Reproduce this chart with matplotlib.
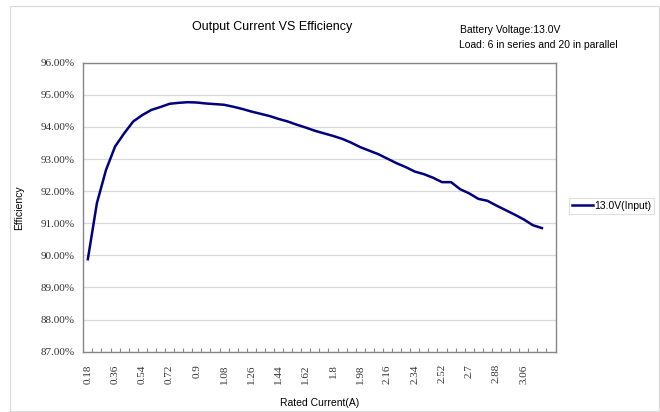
"""Output current vs efficiency curve (13.0V battery input), Excel-style line chart."""

import matplotlib

matplotlib.use("Agg")
import matplotlib.pyplot as plt
from matplotlib.patches import Rectangle

# rated current categories (A), one every 0.06 A
current = [round(0.18 + 0.06 * i, 2) for i in range(51)]
# efficiency (%)
efficiency = [
    89.88, 91.63, 92.66, 93.39, 93.80, 94.17, 94.37, 94.53, 94.62, 94.72,
    94.75, 94.77, 94.76, 94.73, 94.71, 94.69, 94.63, 94.56, 94.48, 94.41,
    94.34, 94.25, 94.17, 94.07, 93.98, 93.88, 93.80, 93.72, 93.63, 93.51,
    93.37, 93.26, 93.15, 93.01, 92.87, 92.75, 92.61, 92.53, 92.42, 92.28,
    92.28, 92.06, 91.93, 91.76, 91.70, 91.55, 91.41, 91.27, 91.12, 90.94,
    90.85,
]
n_slots = 52  # Excel category axis has one spare slot at the end
y_ticks = [87, 88, 89, 90, 91, 92, 93, 94, 95, 96]
series_name = "13.0V(Input)"

SANS = ["Liberation Sans", "DejaVu Sans"]
SERIF = ["Liberation Serif", "DejaVu Serif"]
LINE = "#000080"
GRID = "#d9d9d9"
FRAME = "#868686"

fig = plt.figure(figsize=(6.6, 4.12), dpi=100)
fig.patches.append(Rectangle((10 / 660, 1 / 412), 649 / 660, 405 / 412,
                             transform=fig.transFigure, fill=False,
                             edgecolor="#d9d9d9", linewidth=0.8))
ax = fig.add_axes([83.3 / 660, 1 - 351.7 / 412, 472.2 / 660, 289 / 412])

x = list(range(len(current)))
line, = ax.plot(x, efficiency, color=LINE, linewidth=1.8, label=series_name)

ax.set_xlim(-0.5, n_slots - 0.5)
ax.set_ylim(y_ticks[0], y_ticks[-1])
ax.set_yticks(y_ticks)
ax.set_yticklabels([f"{v:.2f}%" for v in y_ticks], fontfamily=SERIF,
                   fontsize=8, color="#333333")
ax.grid(axis="y", color=GRID, linewidth=0.9)
ax.set_axisbelow(True)

major = x[::3]
ax.set_xticks(major)
ax.set_xticklabels([f"{current[i]:g}" for i in major], rotation=90,
                   fontfamily=SERIF, fontsize=8, color="#333333")
ax.set_xticks([k - 0.5 for k in range(1, n_slots)], minor=True)
ax.tick_params(axis="x", which="major", length=0, pad=9)
ax.tick_params(axis="x", which="minor", direction="in", length=3,
               color=FRAME, width=0.8)
ax.tick_params(axis="y", length=0, pad=6)

for s in ax.spines.values():
    s.set_color(FRAME)
    s.set_linewidth(1.0)

ax.set_xlabel("Rated Current(A)", fontfamily=SANS, fontsize=7.5, labelpad=10)
ax.set_ylabel("Efficiency", fontfamily=SANS, fontsize=7.5, labelpad=12)

fig.text(272 / 660, 1 - 27 / 412, "Output Current VS Efficiency",
         fontfamily=SANS, fontsize=9, ha="center", va="center")
fig.text(460 / 660, 1 - 30 / 412, "Battery Voltage:13.0V",
         fontfamily=SANS, fontsize=7.5, ha="left", va="center")
fig.text(459 / 660, 1 - 45 / 412, "Load: 6 in series and 20 in parallel",
         fontfamily=SANS, fontsize=7.5, ha="left", va="center")

leg = fig.legend(handles=[line], loc="center left",
                 bbox_to_anchor=(569 / 660, 1 - 206 / 412),
                 prop={"family": SANS, "size": 7.5}, frameon=True,
                 fancybox=False, handlelength=2.0, handletextpad=0.1,
                 borderpad=0.3, borderaxespad=0)
leg.get_frame().set_edgecolor("#d9d9d9")
leg.get_frame().set_linewidth(0.8)

fig.savefig("out.png", dpi=100)
